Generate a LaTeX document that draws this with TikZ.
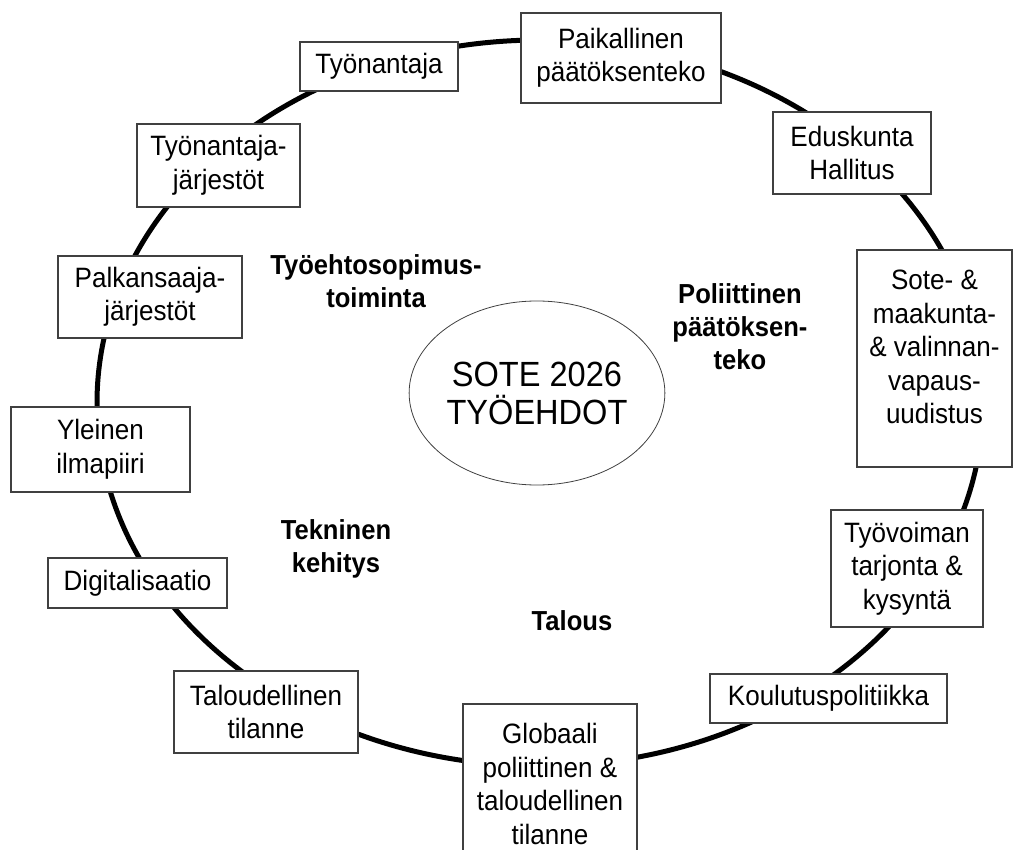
\documentclass[tikz,border=0pt]{standalone}
\usepackage{fontspec}
\setmainfont{Liberation Sans}[FakeStretch=0.93]
\usetikzlibrary{shapes.geometric}
\begin{document}
\begin{tikzpicture}[x=1pt,y=-1pt,
  ring/.style={line width=5pt, black},
  box/.style={draw=black!75, line width=1.1pt, fill=white, inner sep=0pt,
    align=center, font=\fontsize{28}{33.5}\selectfont},
  boxtext/.style={align=center, inner sep=0pt, font=\fontsize{28}{33.5}\selectfont},
  theme/.style={align=center, inner sep=0pt, font=\bfseries\fontsize{27.5}{33}\selectfont},
  core/.style={ellipse, draw=black!75, line width=0.8pt, inner sep=0pt,
    minimum width=222pt, minimum height=184pt, align=center,
    font=\fontsize{35}{38}\selectfont},
]
\useasboundingbox (0,0) rectangle (1013,850);
% outer ring
\draw[ring] (540,403) ellipse [x radius=443pt, y radius=363pt];
% boxes on the ring
\node[box, minimum width=158pt, minimum height=49pt] (tyonantaja) at (379,66.5) {Työnantaja};
\node[box, minimum width=200pt, minimum height=90pt] (paikallinen) at (621,58) {Paikallinen\\päätöksenteko};
\node[box, minimum width=158pt, minimum height=82pt] (eduskunta) at (852,153) {Eduskunta\\Hallitus};
\node[box, minimum width=155pt, minimum height=217pt] (sote) at (934.5,358.5) {};
\node[boxtext] (sotetext) at (934.5,347) {Sote- \&\\maakunta-\\\& valinnan-\\vapaus-\\uudistus};
\node[box, minimum width=152pt, minimum height=117pt] (tyovoima) at (907,568.5) {Työvoiman\\tarjonta \&\\kysyntä};
\node[box, minimum width=237pt, minimum height=49pt] (koulutus) at (828.5,698.5) {Koulutuspolitiikka};
\node[box, minimum width=174pt, minimum height=176pt] (globaali) at (550,792) {};
\node[boxtext] (globaalitext) at (550,784) {Globaali\\poliittinen \&\\taloudellinen\\tilanne};
\node[box, minimum width=184pt, minimum height=82pt] (taloudellinen) at (266,712) {Taloudellinen\\tilanne};
\node[box, minimum width=179pt, minimum height=50pt] (digi) at (137.5,583) {Digitalisaatio};
\node[box, minimum width=179pt, minimum height=85pt] (yleinen) at (100.5,449.5) {Yleinen\\ilmapiiri};
\node[box, minimum width=184pt, minimum height=82pt] (palkansaaja) at (150,297) {Palkansaaja-\\järjestöt};
\node[box, minimum width=163pt, minimum height=83pt] (tyonantajajarj) at (218.5,165.5) {Työnantaja-\\järjestöt};
% centre
\node[core] (centre) at (537,393) {SOTE 2026\\TYÖEHDOT};
% themes
\node[theme] (tes) at (376,281) {Työehtosopimus-\\toiminta};
\node[theme] (poli) at (740,327) {Poliittinen\\päätöksen-\\teko};
\node[theme] (tekn) at (336,549) {Tekninen\\kehitys};
\node[theme] (talous) at (572,621) {Talous};
\end{tikzpicture}
\end{document}
